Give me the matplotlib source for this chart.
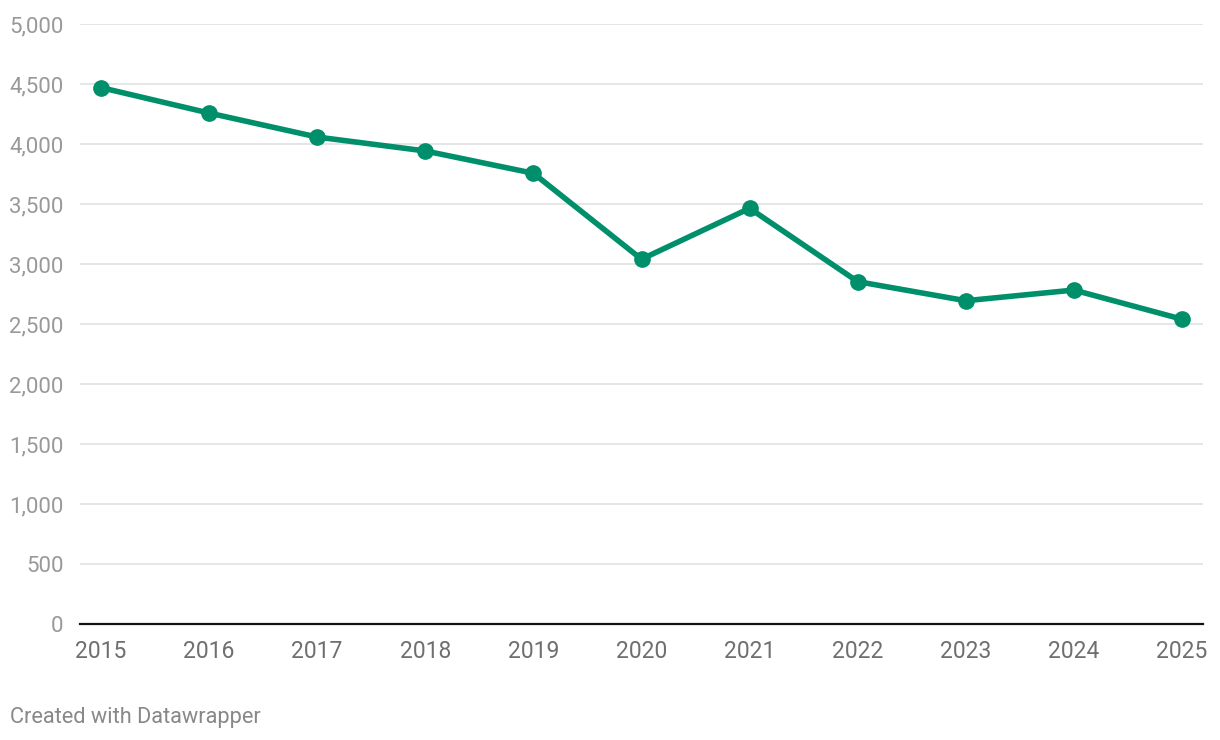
import numpy as np
import matplotlib.pyplot as plt

years = [2015, 2016, 2017, 2018, 2019, 2020, 2021, 2022, 2023, 2024, 2025]
values = [4470, 4258, 4058, 3942, 3756, 3040, 3464, 2853, 2694, 2783, 2540]
yticks = [0, 500, 1000, 1500, 2000, 2500, 3000, 3500, 4000, 4500, 5000]

plt.rcParams['font.family'] = ['Roboto', 'DejaVu Sans']

fig = plt.figure(figsize=(12.2, 7.4), dpi=100)
ax = fig.add_axes([80/1220, 1 - 624/740, (1203 - 80)/1220, 600/740])

ax.plot(years, values, color="#008f6b", lw=4, marker="o", ms=11,
        solid_capstyle="round", solid_joinstyle="round", zorder=3)

ax.set_ylim(0, 5000)
ax.set_xlim(2015 - 0.194, 2025 + 0.194)
ax.set_yticks(yticks)
ax.set_yticklabels([f"{v:,}" for v in yticks])
ax.set_xticks(years)
ax.set_xticklabels([str(y) for y in years])

for v in yticks[1:]:
    ax.axhline(v, color="#e0e0e0", lw=1.2, zorder=1)

for s in ["top", "right", "left"]:
    ax.spines[s].set_visible(False)
ax.spines["bottom"].set_color("#111111")
ax.spines["bottom"].set_linewidth(1.6)
ax.spines["bottom"].set_zorder(4)

ax.tick_params(axis="y", length=0, pad=12, labelsize=16, labelcolor="#999999")
ax.tick_params(axis="x", length=0, pad=11.5, labelsize=16.5, labelcolor="#6f6f6f")

fig.text(10/1220, 1 - 717/740, "Created with Datawrapper", fontsize=15.7,
         color="#888888", va="center", ha="left")

fig.savefig("out.png", dpi=100)
